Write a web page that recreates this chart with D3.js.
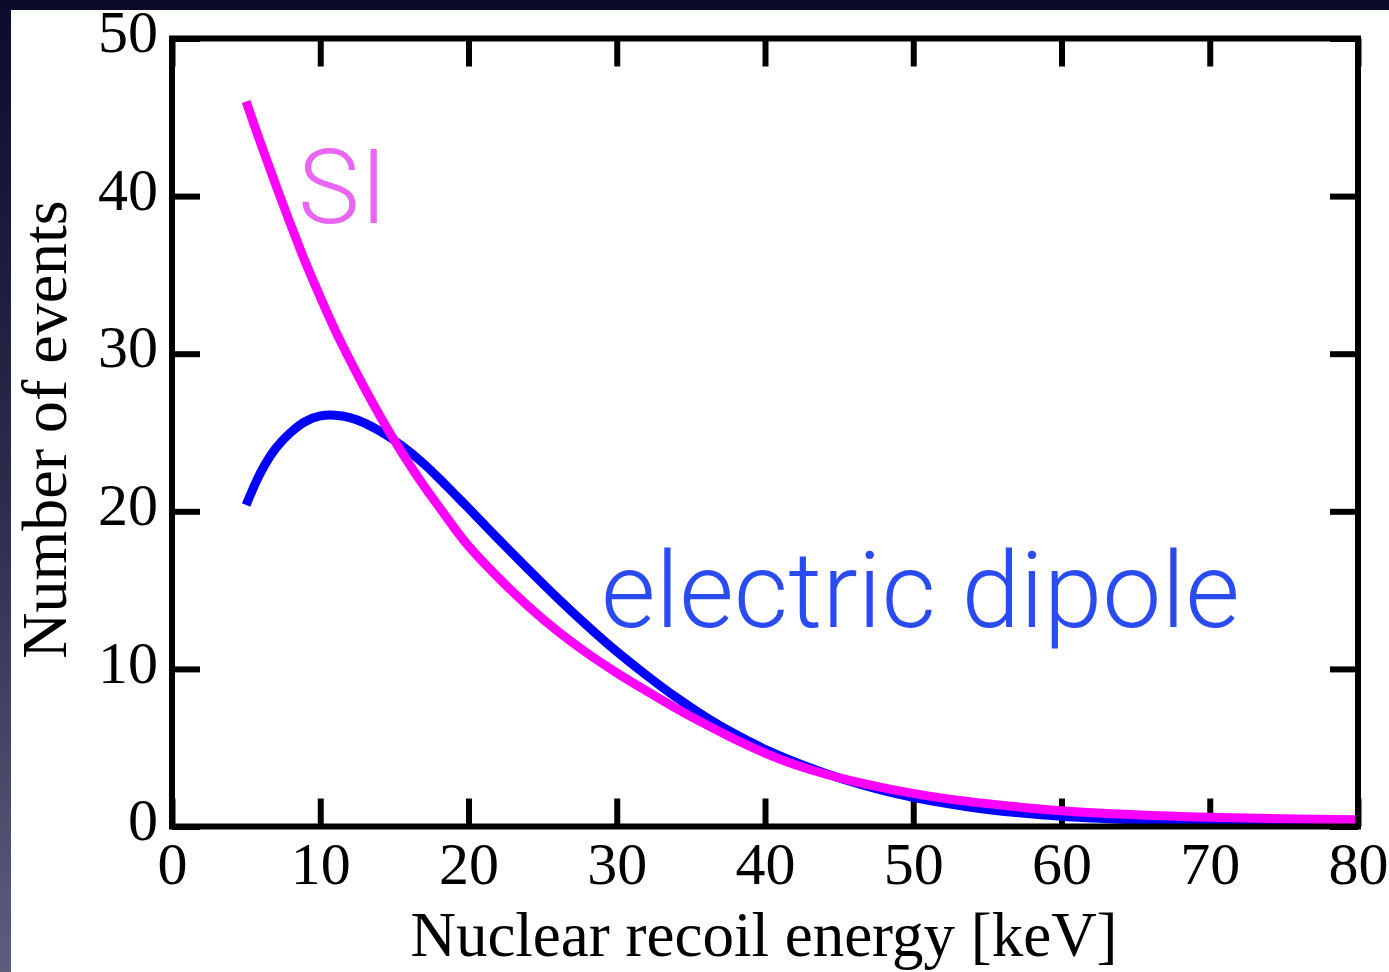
<!DOCTYPE html>
<html>
<head>
<meta charset="utf-8">
<script src="https://cdn.jsdelivr.net/npm/d3@7"></script>
<style>
  html, body { margin: 0; padding: 0; background: #fff; }
  svg { display: block; }
</style>
</head>
<body>
<div id="chart"></div>
<script>
// ---- data ----
const siEnergy   = [5, 6, 7, 8, 9, 10, 11, 12, 13, 14, 15, 16, 17, 18, 19, 20, 22, 24, 26, 28, 30, 32, 34, 36, 38, 40, 42, 44, 46, 48, 50, 52, 55, 60, 65, 70, 75, 80];
const siEvents   = [46.0, 43.3, 40.7, 38.2, 35.8, 33.6, 31.5, 29.6, 27.8, 26.1, 24.5, 23.0, 21.6, 20.3, 19.0, 17.8, 15.8, 14.0, 12.4, 11.0, 9.75, 8.6, 7.5, 6.48, 5.52, 4.66, 3.93, 3.35, 2.86, 2.45, 2.1, 1.8, 1.45, 1.0, 0.74, 0.58, 0.49, 0.43];
const edEnergy   = [5, 6, 7, 8, 9, 10, 11, 12, 13, 14, 15, 16, 17, 18, 19, 20, 22, 24, 26, 28, 30, 32, 34, 36, 38, 40, 42, 44, 46, 48, 50, 52, 55, 60, 65, 70, 75, 80];
const edEvents   = [20.4, 22.5, 24.0, 25.0, 25.7, 26.05, 26.1, 25.95, 25.6, 25.1, 24.5, 23.8, 23.0, 22.1, 21.15, 20.2, 18.25, 16.35, 14.5, 12.75, 11.1, 9.6, 8.2, 6.95, 5.85, 4.9, 4.1, 3.4, 2.8, 2.28, 1.85, 1.5, 1.08, 0.65, 0.42, 0.28, 0.19, 0.14];
const xTicks     = [0, 10, 20, 30, 40, 50, 60, 70, 80];
const yTicks     = [0, 10, 20, 30, 40, 50];
const xTitle     = "Nuclear recoil energy [keV]";
const yTitle     = "Number of events";
const siLabel    = "SI";
const edLabel    = "electric dipole";

// ---- layout ----
const W = 1389, H = 972;
const mLeft = 172, mRight = 1358, mTop = 38.5, mBottom = 826.5;

const svg = d3.select("#chart").append("svg").attr("width", W).attr("height", H);

// background with dark frame strips
const defs = svg.append("defs");
const grad = defs.append("linearGradient").attr("id", "leftGrad")
  .attr("x1", 0).attr("y1", 0).attr("x2", 0).attr("y2", 1);
grad.append("stop").attr("offset", "0%").attr("stop-color", "#0b0b2c");
grad.append("stop").attr("offset", "50%").attr("stop-color", "#2c2b4c");
grad.append("stop").attr("offset", "100%").attr("stop-color", "#5f5d7d");
svg.append("rect").attr("width", W).attr("height", H).attr("fill", "#fff");
svg.append("rect").attr("x", 0).attr("y", 0).attr("width", W).attr("height", 10).attr("fill", "#0a0a2a");
svg.append("rect").attr("x", 0).attr("y", 0).attr("width", 11).attr("height", H).attr("fill", "url(#leftGrad)");

const x = d3.scaleLinear().domain([0, 80]).range([mLeft, mRight]);
const y = d3.scaleLinear().domain([0, 50]).range([mBottom, mTop]);

const tickFont = "'Liberation Serif', 'Times New Roman', serif";

// axes
function styleAxis(g) {
  g.select(".domain").remove();
  g.selectAll(".tick line").attr("stroke", "#000").attr("stroke-width", 6);
  g.selectAll(".tick text").attr("fill", "#000").style("font-family", tickFont).style("font-size", "60px");
}
svg.append("g").attr("transform", `translate(0,${mBottom})`)
  .call(d3.axisBottom(x).tickValues(xTicks).tickSize(-28).tickPadding(15).tickFormat(d3.format("d")))
  .call(styleAxis);
svg.append("g").attr("transform", `translate(0,${mTop})`)
  .call(d3.axisTop(x).tickValues(xTicks).tickSize(-28).tickFormat(""))
  .call(styleAxis);
svg.append("g").attr("transform", `translate(${mLeft},0)`)
  .call(d3.axisLeft(y).tickValues(yTicks).tickSize(-28).tickPadding(14).tickFormat(d3.format("d")))
  .call(styleAxis)
  .selectAll(".tick text").attr("dy", "0.22em");
svg.append("g").attr("transform", `translate(${mRight},0)`)
  .call(d3.axisRight(y).tickValues(yTicks).tickSize(-28).tickFormat(""))
  .call(styleAxis);

// curves
const line = d3.line().x(d => x(d[0])).y(d => y(d[1])).curve(d3.curveCatmullRom.alpha(0.5));
const edData = edEnergy.map((e, i) => [e, edEvents[i]]);
const siData = siEnergy.map((e, i) => [e, siEvents[i]]);
svg.append("path").datum(edData).attr("d", line)
  .attr("fill", "none").attr("stroke", "#0000ff").attr("stroke-width", 9).attr("stroke-linecap", "butt");
svg.append("path").datum(siData).attr("d", line)
  .attr("fill", "none").attr("stroke", "#ff00ff").attr("stroke-width", 9).attr("stroke-linecap", "butt");

// frame
svg.append("rect").attr("x", mLeft).attr("y", mTop).attr("width", mRight - mLeft).attr("height", mBottom - mTop)
  .attr("fill", "none").attr("stroke", "#000").attr("stroke-width", 6);

// axis titles
svg.append("text").attr("x", (mLeft + mRight) / 2 - 1).attr("y", 956).attr("text-anchor", "middle")
  .style("font-family", tickFont).style("font-size", "63px").text(xTitle);
svg.append("text").attr("transform", `translate(66,${(mTop + mBottom) / 2 - 3}) rotate(-90)`).attr("text-anchor", "middle")
  .style("font-family", tickFont).style("font-size", "64px").text(yTitle);

// curve labels
const sansFont = "'Roboto', 'Liberation Sans', 'Helvetica', sans-serif";
svg.append("text").attr("x", 298).attr("y", 223)
  .style("font-family", sansFont).style("font-weight", 300).style("font-size", "104px")
  .attr("fill", "#e866f2").text(siLabel);
svg.append("text").attr("x", 601).attr("y", 627)
  .style("font-family", sansFont).style("font-weight", 300).style("font-size", "105.5px")
  .attr("fill", "#2a4bf2").text(edLabel);
</script>
</body>
</html>
